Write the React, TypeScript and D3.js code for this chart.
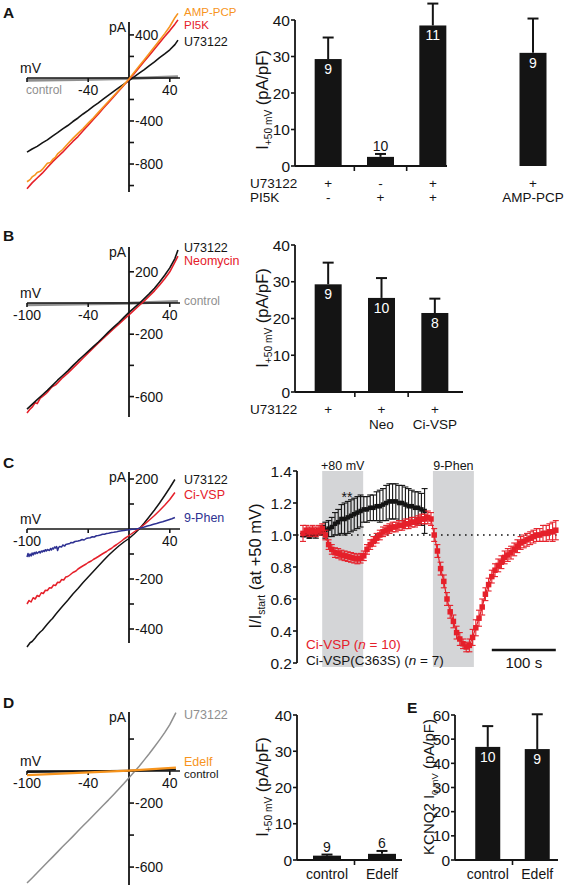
import React from "react";
import * as d3 from "d3";

const FONT = '"Liberation Sans", Arial, Helvetica, sans-serif';
const BLACK = "#141414";
const RED = "#e5202a";
const ORANGE = "#f7941d";
const BLUE = "#2e3192";
const GREY = "#8f8f8f";
const BAND = "#d4d5d7";

type P = [number, number];

// ---------------- Panel A: IV traces (mV, pA)
const ivA_control: P[] = [[-100, -22], [-50, -14], [0, -5], [48, 12]];
const ivA_U73122: P[] = [[-100, -690], [-95, -660], [-90, -636], [-85, -603], [-80, -575], [-75, -540], [-70, -508], [-65, -474], [-60, -442], [-55, -405], [-50, -372], [-45, -335], [-40, -302], [-35, -265], [-30, -232], [-25, -195], [-20, -160], [-15, -124], [-10, -90], [-5, -57], [0, -25], [5, 10], [10, 44], [15, 78], [20, 114], [25, 150], [30, 188], [35, 224], [40, 262], [45, 310], [48, 352]];
const ivA_PI5K: P[] = [[-100, -1030], [-95, -975], [-90, -930], [-85, -885], [-80, -832], [-75, -780], [-70, -735], [-65, -690], [-60, -640], [-55, -590], [-50, -545], [-45, -490], [-40, -440], [-35, -385], [-30, -335], [-25, -280], [-20, -228], [-15, -175], [-10, -122], [-5, -68], [0, -15], [5, 40], [10, 98], [15, 155], [20, 212], [25, 270], [30, 328], [35, 385], [40, 440], [45, 500], [48, 540]];
const ivA_AMPPCP: P[] = [[-100, -965], [-97, -945], [-95, -920], [-92, -900], [-90, -878], [-87, -868], [-85, -850], [-82, -815], [-80, -792], [-77, -785], [-75, -760], [-72, -735], [-70, -705], [-65, -665], [-60, -612], [-55, -562], [-50, -515], [-45, -470], [-40, -420], [-35, -372], [-30, -320], [-25, -268], [-20, -216], [-15, -166], [-10, -114], [-5, -62], [0, -10], [5, 50], [10, 110], [15, 170], [20, 230], [25, 290], [30, 350], [35, 412], [40, 478], [45, 560], [48, 600]];

// ---------------- Panel B: IV traces
const ivB_control: P[] = [[-100, -12], [0, -2], [48, 10]];
const ivB_U73122: P[] = [[-100, -680], [-95, -650], [-90, -620], [-85, -590], [-80, -560], [-75, -528], [-70, -495], [-65, -465], [-60, -435], [-55, -402], [-50, -370], [-45, -340], [-40, -310], [-35, -280], [-30, -250], [-25, -218], [-20, -185], [-15, -155], [-10, -125], [-5, -92], [0, -60], [5, -32], [10, -3], [15, 28], [20, 60], [25, 95], [30, 135], [35, 178], [40, 225], [45, 285], [48, 340]];
const ivB_Neomycin: P[] = [[-100, -705], [-97, -680], [-95, -668], [-92, -640], [-90, -645], [-87, -610], [-85, -600], [-82, -585], [-80, -572], [-77, -548], [-75, -535], [-72, -525], [-70, -512], [-65, -478], [-60, -450], [-55, -418], [-50, -386], [-45, -353], [-40, -320], [-35, -288], [-30, -256], [-25, -225], [-20, -195], [-15, -165], [-10, -135], [-5, -105], [0, -76], [5, -46], [10, -16], [15, 14], [20, 45], [25, 78], [30, 115], [35, 155], [40, 200], [45, 262], [48, 300]];

// ---------------- Panel C: IV traces
const ivC_U73122: P[] = [[-100, -472], [-97, -455], [-95, -450], [-92, -436], [-90, -425], [-87, -412], [-85, -405], [-82, -390], [-80, -380], [-77, -366], [-75, -358], [-72, -342], [-70, -332], [-65, -308], [-60, -285], [-55, -260], [-50, -238], [-45, -214], [-40, -192], [-35, -170], [-30, -148], [-25, -126], [-20, -105], [-15, -86], [-10, -68], [-5, -52], [0, -38], [5, -20], [10, 0], [15, 24], [20, 50], [25, 76], [30, 104], [35, 134], [40, 165], [45, 198]];
const ivC_CiVSP: P[] = [[-100, -300], [-98, -286], [-96, -292], [-94, -275], [-92, -280], [-90, -266], [-88, -270], [-86, -255], [-84, -258], [-82, -245], [-80, -246], [-78, -235], [-76, -236], [-74, -224], [-72, -226], [-70, -213], [-68, -214], [-66, -202], [-64, -204], [-62, -192], [-60, -190], [-58, -184], [-55, -174], [-52, -168], [-50, -160], [-47, -152], [-45, -147], [-42, -140], [-40, -134], [-37, -128], [-35, -122], [-32, -115], [-30, -110], [-27, -102], [-25, -97], [-22, -90], [-20, -84], [-17, -77], [-15, -70], [-12, -62], [-10, -56], [-7, -47], [-5, -40], [-2, -32], [0, -26], [5, -12], [10, 2], [15, 18], [20, 36], [25, 54], [30, 74], [35, 95], [40, 118], [45, 146]];
const ivC_9Phen: P[] = [[-100, -112], [-99, -98], [-98, -110], [-97, -100], [-96, -108], [-95, -96], [-94, -104], [-93, -94], [-92, -100], [-91, -92], [-90, -98], [-88, -90], [-87, -96], [-86, -88], [-85, -92], [-84, -86], [-83, -90], [-82, -83], [-81, -88], [-80, -82], [-78, -86], [-77, -78], [-76, -84], [-75, -76], [-74, -80], [-73, -72], [-72, -76], [-71, -70], [-70, -86], [-69, -74], [-68, -70], [-66, -72], [-65, -64], [-63, -68], [-62, -62], [-60, -60], [-58, -58], [-57, -54], [-55, -55], [-53, -50], [-50, -48], [-48, -46], [-46, -42], [-44, -44], [-42, -38], [-40, -36], [-38, -35], [-36, -31], [-34, -32], [-32, -27], [-30, -26], [-28, -24], [-26, -21], [-24, -21], [-22, -18], [-20, -17], [-17, -14], [-15, -13], [-12, -11], [-10, -9], [-7, -7], [-5, -6], [-2, -4], [0, -3], [3, -1], [6, 0], [9, 2], [12, 5], [15, 8], [18, 12], [21, 15], [24, 19], [27, 22], [30, 26], [33, 29], [36, 33], [39, 37], [42, 41], [45, 46]];

// ---------------- Panel D: IV traces
const ivD_U73122: P[] = [[-100, -700], [-95, -668], [-90, -635], [-85, -603], [-80, -570], [-75, -538], [-70, -505], [-65, -472], [-60, -440], [-55, -408], [-50, -375], [-45, -342], [-40, -310], [-35, -278], [-30, -245], [-25, -212], [-20, -180], [-15, -146], [-10, -112], [-5, -78], [0, -42], [5, -6], [10, 30], [15, 70], [20, 110], [25, 152], [30, 195], [35, 240], [40, 290], [46, 365]];
const ivD_control: P[] = [[-100, -6], [0, 2], [46, 10]];
const ivD_Edelf: P[] = [[-100, -25], [-50, -11], [0, 3], [46, 22]];

// ---------------- Bar data
const barTicks40 = [0, 10, 20, 30, 40];
const barTicks60 = [0, 10, 20, 30, 40, 50, 60];

const aCats = ["a1", "a2", "a3"];
const aMeans = [29.3, 2.5, 38.5];
const aSems = [5.9, 0.8, 6.0];
const aNs = ["9", "10", "11"];
const aRowU73122 = ["+", "-", "+"];
const aRowPI5K = ["-", "+", "+"];
const aExtraCats = ["AMP-PCP"];
const aExtraMeans = [31.0];
const aExtraSems = [9.4];
const aExtraNs = ["9"];

const bCats = ["U73122", "Neo", "Ci-VSP"];
const bMeans = [29.3, 25.6, 21.5];
const bSems = [5.9, 5.4, 3.9];
const bNs = ["9", "10", "8"];
const bRowU73122 = ["+", "+", "+"];
const bRow2 = ["", "Neo", "Ci-VSP"];

const dCats = ["control", "Edelf"];
const dMeans = [1.2, 1.7];
const dSems = [0.3, 0.8];
const dNs = ["9", "6"];

const eCats = ["control", "Edelf"];
const eMeans = [46.8, 45.9];
const eSems = [8.6, 14.4];
const eNs = ["10", "9"];

// ---------------- Time course (t in s, mean I/Istart, SEM)
const cTicks = [0.2, 0.4, 0.6, 0.8, 1.0, 1.2, 1.4];
const ciVSP: [number, number, number][] = [
  [0, 1.01, 0.05], [5, 1.03, 0.03], [10, 1.02, 0.03], [15, 1.03, 0.03], [20, 1.02, 0.03], [25, 1.03, 0.03], [30, 1.04, 0.03], [35, 1.0, 0.03], [40, 0.94, 0.03], [45, 0.91, 0.03],
  [50, 0.89, 0.03], [55, 0.885, 0.03], [60, 0.875, 0.03], [65, 0.87, 0.03], [70, 0.865, 0.03], [75, 0.86, 0.03], [80, 0.855, 0.03], [85, 0.85, 0.03], [90, 0.855, 0.03], [95, 0.87, 0.03],
  [100, 0.91, 0.03], [105, 0.94, 0.03], [110, 0.96, 0.03], [115, 0.98, 0.03], [120, 1.0, 0.03], [125, 1.02, 0.03], [130, 1.03, 0.03], [135, 1.04, 0.03], [140, 1.05, 0.03], [145, 1.05, 0.03],
  [150, 1.06, 0.03], [155, 1.06, 0.03], [160, 1.07, 0.03], [165, 1.07, 0.03], [170, 1.08, 0.03], [175, 1.08, 0.03], [180, 1.09, 0.03], [185, 1.1, 0.03], [190, 1.1, 0.03], [195, 1.11, 0.04],
  [200, 1.1, 0.04], [205, 1.0, 0.04], [210, 0.9, 0.04], [215, 0.79, 0.04], [220, 0.71, 0.04], [225, 0.6, 0.04], [230, 0.52, 0.04], [235, 0.46, 0.04], [240, 0.39, 0.04], [245, 0.35, 0.04],
  [250, 0.32, 0.03], [255, 0.3, 0.03], [260, 0.31, 0.04], [265, 0.36, 0.05], [270, 0.42, 0.05], [275, 0.48, 0.05], [280, 0.55, 0.05], [285, 0.63, 0.04], [290, 0.69, 0.04], [295, 0.74, 0.04],
  [300, 0.78, 0.04], [305, 0.81, 0.04], [310, 0.83, 0.04], [315, 0.86, 0.04], [320, 0.875, 0.04], [325, 0.89, 0.04], [330, 0.91, 0.04], [335, 0.93, 0.04], [340, 0.95, 0.04], [345, 0.96, 0.04],
  [350, 0.97, 0.04], [355, 0.98, 0.04], [360, 0.99, 0.04], [365, 1.0, 0.04], [370, 1.0, 0.04], [375, 1.01, 0.05], [380, 1.01, 0.05], [385, 1.02, 0.05], [390, 1.02, 0.06], [395, 1.03, 0.06],
];
const ciVSP_C363S: [number, number, number][] = [
  [0, 1.0, 0.01], [5, 1.0, 0.01], [10, 0.99, 0.01], [15, 1.0, 0.01], [20, 1.0, 0.02], [25, 1.02, 0.02], [30, 1.03, 0.03], [35, 1.03, 0.05], [40, 1.04, 0.05], [45, 1.05, 0.06],
  [50, 1.07, 0.07], [55, 1.08, 0.08], [60, 1.1, 0.09], [65, 1.1, 0.1], [70, 1.11, 0.1], [75, 1.12, 0.1], [80, 1.13, 0.1], [85, 1.14, 0.1], [90, 1.15, 0.1], [95, 1.16, 0.08],
  [100, 1.16, 0.08], [105, 1.17, 0.08], [110, 1.17, 0.08], [115, 1.18, 0.09], [120, 1.18, 0.1], [125, 1.19, 0.1], [130, 1.2, 0.11], [135, 1.21, 0.11], [140, 1.21, 0.11], [145, 1.21, 0.11],
  [150, 1.2, 0.11], [155, 1.2, 0.11], [160, 1.19, 0.11], [165, 1.18, 0.11], [170, 1.18, 0.1], [175, 1.17, 0.1], [180, 1.17, 0.1], [185, 1.16, 0.1], [190, 1.15, 0.14],
];
const bands = [
  { label: "+80 mV", from: 30, to: 94 },
  { label: "9-Phen", from: 203, to: 267 },
];

// ---------------------------------------------------------------------
type Trace = { data: P[]; color: string; width: number; under?: boolean };
type Lbl = { x: number; y: number; text: string; color: string; size: number };

function IVPlot(props: {
  yDomain: [number, number];
  yRange: [number, number];
  yTicks: number[];
  yTickLabels: number[];
  xTickLabels: number[];
  traces: Trace[];
  labels: Lbl[];
}) {
  const x = d3.scaleLinear().domain([-100, 50]).range([27, 180]);
  const y = d3.scaleLinear().domain(props.yDomain).range(props.yRange);
  const line = d3.line<P>().x((d) => x(d[0])).y((d) => y(d[1]));
  const yz = y(0);
  const xz = x(0);
  const xTicks = [-100, -40, 40];
  const top = props.yRange[1];
  const bottom = props.yRange[0];
  return (
    <g>
      {props.traces.filter((t) => t.under).map((t, i) => (
        <path key={"u" + i} d={line(t.data) || ""} fill="none" stroke={t.color} strokeWidth={t.width} strokeLinejoin="round" />
      ))}
      <line x1={x(-100)} x2={x(50)} y1={yz} y2={yz} stroke={BLACK} strokeWidth={1.4} />
      {xTicks.map((v) => (
        <line key={v} x1={x(v)} x2={x(v)} y1={yz} y2={yz + 4} stroke={BLACK} strokeWidth={1.6} />
      ))}
      {props.xTickLabels.map((v) => (
        <text key={v} x={x(v)} y={yz + 12} textAnchor="middle" dominantBaseline="central" fontSize={14}>
          {String(v)}
        </text>
      ))}
      <line x1={xz} x2={xz} y1={top} y2={bottom} stroke={BLACK} strokeWidth={1.8} />
      {props.yTicks.map((v) => (
        <line key={v} x1={xz} x2={xz + 5} y1={y(v)} y2={y(v)} stroke={BLACK} strokeWidth={1.6} />
      ))}
      {props.yTickLabels.map((v) => (
        <text key={v} x={xz + 6} y={y(v)} dominantBaseline="central" fontSize={14}>
          {String(v)}
        </text>
      ))}
      <text x={xz - 3} y={top + 5} textAnchor="end" dominantBaseline="central" fontSize={14}>pA</text>
      <text x={20} y={yz - 10} dominantBaseline="central" fontSize={14}>mV</text>
      {props.traces.filter((t) => !t.under).map((t, i) => (
        <path key={"t" + i} d={line(t.data) || ""} fill="none" stroke={t.color} strokeWidth={t.width} strokeLinejoin="round" />
      ))}
      {props.labels.map((l, i) => (
        <text key={"l" + i} x={l.x} y={l.y} fill={l.color} fontSize={l.size} dominantBaseline="central">
          {l.text}
        </text>
      ))}
    </g>
  );
}

function Bars(props: {
  cats: string[];
  means: number[];
  sems: number[];
  ns: string[];
  range: [number, number];
  barW: number;
  y: d3.ScaleLinear<number, number>;
}) {
  const xb = d3.scaleBand().domain(props.cats).range(props.range);
  const y = props.y;
  const y0 = y(0);
  return (
    <g>
      {props.cats.map((c, i) => {
        const cx = (xb(c) || 0) + xb.bandwidth() / 2;
        const top = y(props.means[i]);
        const et = y(props.means[i] + props.sems[i]);
        const inside = y0 - top > 20;
        return (
          <g key={c}>
            <line x1={cx} x2={cx} y1={top} y2={et} stroke={BLACK} strokeWidth={2} />
            <line x1={cx - 5.5} x2={cx + 5.5} y1={et} y2={et} stroke={BLACK} strokeWidth={2} />
            <rect x={cx - props.barW / 2} y={top} width={props.barW} height={y0 - top} fill={BLACK} />
            <text
              x={cx}
              y={inside ? top + 10 : et - 8}
              textAnchor="middle"
              dominantBaseline="central"
              fontSize={14}
              fill={inside ? "#fff" : BLACK}
            >
              {props.ns[i]}
            </text>
          </g>
        );
      })}
    </g>
  );
}

function YAxis(props: { x: number; y: d3.ScaleLinear<number, number>; ticks: number[]; fmt?: (v: number) => string }) {
  const { x, y, ticks } = props;
  const fmt = props.fmt || ((v: number) => String(v));
  const ext = d3.extent(ticks) as [number, number];
  return (
    <g>
      <line x1={x} x2={x} y1={y(ext[0])} y2={y(ext[1])} stroke={BLACK} strokeWidth={1.8} />
      {ticks.map((v) => (
        <g key={v}>
          <line x1={x - 4} x2={x} y1={y(v)} y2={y(v)} stroke={BLACK} strokeWidth={1.6} />
          <text x={x - 5} y={y(v)} textAnchor="end" dominantBaseline="central" fontSize={15.5}>
            {fmt(v)}
          </text>
        </g>
      ))}
    </g>
  );
}

function XBase(props: { x1: number; x2: number; y: number; ticks: number[] }) {
  return (
    <g>
      <line x1={props.x1} x2={props.x2} y1={props.y} y2={props.y} stroke={BLACK} strokeWidth={1.8} />
      {props.ticks.map((t, i) => (
        <line key={i} x1={t} x2={t} y1={props.y} y2={props.y + 5} stroke={BLACK} strokeWidth={1.6} />
      ))}
    </g>
  );
}

function YLabel(props: { x: number; cy: number; main: string; sub: string; rest: string; size?: number }) {
  const s = props.size || 16.5;
  return (
    <text transform={`translate(${props.x},${props.cy}) rotate(-90)`} textAnchor="middle" fontSize={s}>
      {props.main}
      <tspan fontSize={s * 0.62} dy={4}>{props.sub}</tspan>
      <tspan dy={-4}>{props.rest}</tspan>
    </text>
  );
}

function bandMid(scale: d3.ScaleBand<string>, c: string) {
  return (scale(c) || 0) + scale.bandwidth() / 2;
}

function PanelABars() {
  const y = d3.scaleLinear().domain([0, 40]).range([166, 20]);
  const range: [number, number] = [302, 459];
  const xb = d3.scaleBand().domain(aCats).range(range);
  const xe = d3.scaleBand().domain(aExtraCats).range([506.5, 559.5]);
  const mids = aCats.map((c) => bandMid(xb, c));
  return (
    <g>
      <YAxis x={295} y={y} ticks={barTicks40} />
      <XBase x1={295} x2={447} y={166} ticks={[(mids[0] + mids[1]) / 2, (mids[1] + mids[2]) / 2]} />
      <Bars cats={aCats} means={aMeans} sems={aSems} ns={aNs} range={range} barW={27} y={y} />
      <Bars cats={aExtraCats} means={aExtraMeans} sems={aExtraSems} ns={aExtraNs} range={[506.5, 559.5]} barW={27} y={y} />
      <YLabel x={268} cy={100} main="I" sub="+50 mV" rest=" (pA/pF)" />
      <text x={250} y={183} dominantBaseline="central" fontSize={13.5}>U73122</text>
      <text x={250} y={197} dominantBaseline="central" fontSize={13.5}>PI5K</text>
      {aCats.map((c, i) => (
        <g key={c}>
          <text x={mids[i]} y={183} textAnchor="middle" dominantBaseline="central" fontSize={13.5}>{aRowU73122[i]}</text>
          <text x={mids[i]} y={197} textAnchor="middle" dominantBaseline="central" fontSize={13.5}>{aRowPI5K[i]}</text>
        </g>
      ))}
      <text x={bandMid(xe, aExtraCats[0])} y={183} textAnchor="middle" dominantBaseline="central" fontSize={13.5}>+</text>
      <text x={bandMid(xe, aExtraCats[0])} y={197} textAnchor="middle" dominantBaseline="central" fontSize={13.5}>{aExtraCats[0]}</text>
    </g>
  );
}

function PanelBBars() {
  const y = d3.scaleLinear().domain([0, 40]).range([392, 245]);
  const range: [number, number] = [301.5, 461.5];
  const xb = d3.scaleBand().domain(bCats).range(range);
  const mids = bCats.map((c) => bandMid(xb, c));
  return (
    <g>
      <YAxis x={295} y={y} ticks={barTicks40} />
      <XBase x1={295} x2={463} y={392} ticks={[(mids[0] + mids[1]) / 2, (mids[1] + mids[2]) / 2]} />
      <Bars cats={bCats} means={bMeans} sems={bSems} ns={bNs} range={range} barW={27} y={y} />
      <YLabel x={268} cy={318} main="I" sub="+50 mV" rest=" (pA/pF)" />
      <text x={250} y={409} dominantBaseline="central" fontSize={13.5}>U73122</text>
      {bCats.map((c, i) => (
        <g key={c}>
          <text x={mids[i]} y={409} textAnchor="middle" dominantBaseline="central" fontSize={13.5}>{bRowU73122[i]}</text>
          <text x={mids[i]} y={424} textAnchor="middle" dominantBaseline="central" fontSize={13.5}>{bRow2[i]}</text>
        </g>
      ))}
    </g>
  );
}

function PanelDBars() {
  const y = d3.scaleLinear().domain([0, 40]).range([860, 715]);
  const range: [number, number] = [299.5, 409.5];
  const xb = d3.scaleBand().domain(dCats).range(range);
  const mids = dCats.map((c) => bandMid(xb, c));
  return (
    <g>
      <YAxis x={297} y={y} ticks={barTicks40} />
      <XBase x1={297} x2={402} y={860} ticks={[(mids[0] + mids[1]) / 2]} />
      <Bars cats={dCats} means={dMeans} sems={dSems} ns={dNs} range={range} barW={28} y={y} />
      <YLabel x={268} cy={787} main="I" sub="+50 mV" rest=" (pA/pF)" />
      {dCats.map((c, i) => (
        <text key={c} x={mids[i]} y={874} textAnchor="middle" dominantBaseline="central" fontSize={14}>{c}</text>
      ))}
    </g>
  );
}

function PanelEBars() {
  const y = d3.scaleLinear().domain([0, 60]).range([860, 715]);
  const range: [number, number] = [463, 562];
  const xb = d3.scaleBand().domain(eCats).range(range);
  const mids = eCats.map((c) => bandMid(xb, c));
  return (
    <g>
      <YAxis x={455} y={y} ticks={barTicks60} />
      <XBase x1={455} x2={558} y={860} ticks={[(mids[0] + mids[1]) / 2]} />
      <Bars cats={eCats} means={eMeans} sems={eSems} ns={eNs} range={range} barW={25} y={y} />
      <YLabel x={434} cy={787} main="KCNQ2 I" sub="0 mV" rest=" (pA/pF)" size={15} />
      {eCats.map((c, i) => (
        <text key={c} x={mids[i]} y={874} textAnchor="middle" dominantBaseline="central" fontSize={14}>{c}</text>
      ))}
    </g>
  );
}

function TimeCourse() {
  const tx = d3.scaleLinear().domain([0, 400]).range([303, 559]);
  const ty = d3.scaleLinear().domain([0.2, 1.4]).range([663, 471]);
  const series = [
    { data: ciVSP_C363S, color: BLACK, size: 4.5 },
    { data: ciVSP, color: RED, size: 5.5 },
  ];
  const line = d3.line<[number, number, number]>().x((d) => tx(d[0])).y((d) => ty(d[1]));
  return (
    <g>
      {bands.map((b) => (
        <g key={b.label}>
          <rect x={tx(b.from)} y={ty(1.4)} width={tx(b.to) - tx(b.from)} height={ty(0.175) - ty(1.4)} fill={BAND} />
          <text x={(tx(b.from) + tx(b.to)) / 2} y={466} textAnchor="middle" dominantBaseline="central" fontSize={12.5}>
            {b.label}
          </text>
        </g>
      ))}
      <line x1={297} x2={557} y1={ty(1)} y2={ty(1)} stroke={BLACK} strokeWidth={1.6} strokeDasharray="1.6,4.4" />
      <YAxis x={297} y={ty} ticks={cTicks} fmt={d3.format(".1f")} />
      {series.map((s, si) => (
        <g key={si}>
          <path d={line(s.data) || ""} fill="none" stroke={s.color} strokeWidth={1.2} />
          {s.data.map((d, i) => {
            const cx = tx(d[0]);
            const y1 = ty(d[1] + d[2]);
            const y2 = ty(d[1] - d[2]);
            return (
              <g key={i}>
                <line x1={cx} x2={cx} y1={y1} y2={y2} stroke={s.color} strokeWidth={1.1} />
                <line x1={cx - 3} x2={cx + 3} y1={y1} y2={y1} stroke={s.color} strokeWidth={1.1} />
                <line x1={cx - 3} x2={cx + 3} y1={y2} y2={y2} stroke={s.color} strokeWidth={1.1} />
              </g>
            );
          })}
          {s.data.map((d, i) => (
            <rect key={"m" + i} x={tx(d[0]) - s.size / 2} y={ty(d[1]) - s.size / 2} width={s.size} height={s.size} fill={s.color} />
          ))}
        </g>
      ))}
      <text x={347} y={502} textAnchor="middle" fontSize={14}>**</text>
      <line x1={tx(295)} x2={tx(395)} y1={650} y2={650} stroke={BLACK} strokeWidth={2.5} />
      <text x={tx(345)} y={662} textAnchor="middle" dominantBaseline="central" fontSize={15}>100 s</text>
      <text x={306} y={644} dominantBaseline="central" fontSize={13.5} fill={RED}>
        Ci-VSP (<tspan fontStyle="italic">n</tspan> = 10)
      </text>
      <text x={306} y={660} dominantBaseline="central" fontSize={13.5} fill={BLACK}>
        Ci-VSP(C363S) (<tspan fontStyle="italic">n</tspan> = 7)
      </text>
      <YLabel x={261} cy={566} main="I/I" sub="start" rest=" (at +50 mV)" />
    </g>
  );
}

export default function App() {
  return (
    <svg
      width={566}
      height={887}
      viewBox="0 0 566 887"
      style={{ position: "absolute", left: 0, top: 0, background: "#fff" }}
      fontFamily={FONT}
      fill={BLACK}
    >
      <rect x={0} y={0} width={566} height={887} fill="#fff" />
      {/* Panel letters */}
      <text x={3} y={12} dominantBaseline="central" fontSize={15.5} fontWeight="bold">A</text>
      <text x={3} y={235} dominantBaseline="central" fontSize={15.5} fontWeight="bold">B</text>
      <text x={3} y={462} dominantBaseline="central" fontSize={15.5} fontWeight="bold">C</text>
      <text x={3} y={702} dominantBaseline="central" fontSize={15.5} fontWeight="bold">D</text>
      <text x={407} y={707} dominantBaseline="central" fontSize={15.5} fontWeight="bold">E</text>

      {/* A */}
      <IVPlot
        yDomain={[-1060, 520]}
        yRange={[192, 22]}
        yTicks={[400, 200, -200, -400, -600, -800, -1000]}
        yTickLabels={[400, -400, -800]}
        xTickLabels={[-40, 40]}
        traces={[
          { data: ivA_control, color: GREY, width: 3, under: true },
          { data: ivA_U73122, color: BLACK, width: 1.6 },
          { data: ivA_PI5K, color: RED, width: 1.6 },
          { data: ivA_AMPPCP, color: ORANGE, width: 1.6 },
        ]}
        labels={[
          { x: 184, y: 11.5, text: "AMP-PCP", color: ORANGE, size: 11.5 },
          { x: 184, y: 25, text: "PI5K", color: RED, size: 11.5 },
          { x: 184, y: 42, text: "U73122", color: BLACK, size: 12.5 },
          { x: 26, y: 90, text: "control", color: GREY, size: 12 },
        ]}
      />
      <PanelABars />

      {/* B */}
      <IVPlot
        yDomain={[-731, 359]}
        yRange={[417, 247]}
        yTicks={[200, -200, -400, -600]}
        yTickLabels={[200, -200, -600]}
        xTickLabels={[-100, -40, 40]}
        traces={[
          { data: ivB_control, color: GREY, width: 3, under: true },
          { data: ivB_Neomycin, color: RED, width: 1.6 },
          { data: ivB_U73122, color: BLACK, width: 1.6 },
        ]}
        labels={[
          { x: 184, y: 247.5, text: "U73122", color: BLACK, size: 12.5 },
          { x: 184, y: 260.5, text: "Neomycin", color: RED, size: 12.5 },
          { x: 184, y: 301, text: "control", color: GREY, size: 12 },
        ]}
      />
      <PanelBBars />

      {/* C */}
      <IVPlot
        yDomain={[-456, 228]}
        yRange={[643, 472]}
        yTicks={[200, 100, -100, -200, -300, -400]}
        yTickLabels={[200, -200, -400]}
        xTickLabels={[-100, 40]}
        traces={[
          { data: ivC_U73122, color: BLACK, width: 1.5 },
          { data: ivC_CiVSP, color: RED, width: 1.5 },
          { data: ivC_9Phen, color: BLUE, width: 1.5 },
        ]}
        labels={[
          { x: 184, y: 480, text: "U73122", color: BLACK, size: 12.5 },
          { x: 184, y: 495, text: "Ci-VSP", color: RED, size: 12.5 },
          { x: 184, y: 518, text: "9-Phen", color: BLUE, size: 12.5 },
        ]}
      />
      <TimeCourse />

      {/* D */}
      <IVPlot
        yDomain={[-712, 369]}
        yRange={[885, 712]}
        yTicks={[200, -200, -400, -600]}
        yTickLabels={[-200, -600]}
        xTickLabels={[-100, -40, 40]}
        traces={[
          { data: ivD_U73122, color: GREY, width: 1.5 },
          { data: ivD_control, color: BLACK, width: 2 },
          { data: ivD_Edelf, color: ORANGE, width: 2.2 },
        ]}
        labels={[
          { x: 184, y: 715, text: "U73122", color: GREY, size: 12.5 },
          { x: 184, y: 762, text: "Edelf", color: ORANGE, size: 12.5 },
          { x: 184, y: 774, text: "control", color: BLACK, size: 11.5 },
        ]}
      />
      <PanelDBars />
      <PanelEBars />
    </svg>
  );
}
